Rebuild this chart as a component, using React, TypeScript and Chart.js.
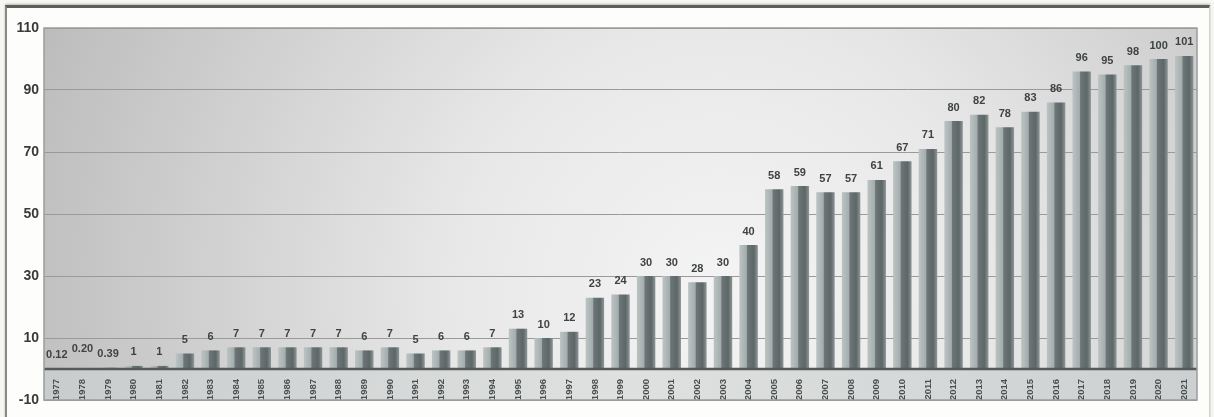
import React, { useEffect, useRef } from "react";
import { Chart, registerables } from "chart.js";

Chart.register(...registerables);

const years = [
  "1977", "1978", "1979", "1980", "1981", "1982", "1983", "1984", "1985",
  "1986", "1987", "1988", "1989", "1990", "1991", "1992", "1993", "1994",
  "1995", "1996", "1997", "1998", "1999", "2000", "2001", "2002", "2003",
  "2004", "2005", "2006", "2007", "2008", "2009", "2010", "2011", "2012",
  "2013", "2014", "2015", "2016", "2017", "2018", "2019", "2020", "2021",
];

const values = [
  0.12, 0.2, 0.39, 1, 1, 5, 6, 7, 7, 7, 7, 7, 6, 7, 5, 6, 6, 7, 13, 10, 12,
  23, 24, 30, 30, 28, 30, 40, 58, 59, 57, 57, 61, 67, 71, 80, 82, 78, 83, 86,
  96, 95, 98, 100, 101,
];

const yMin = -10;
const yMax = 110;
const yStep = 20;

const fmt = (v: number) => (v < 1 ? v.toFixed(2) : String(v));

const FONT = "'Liberation Sans', Arial, sans-serif";

const backgroundPlugin = {
  id: "plotBackground",
  beforeDraw(chart: any) {
    const { ctx, chartArea } = chart;
    const ys = chart.scales.y;
    const y0 = ys.getPixelForValue(0);
    const { left, right, top, bottom } = chartArea;
    ctx.save();
    const rg = ctx.createRadialGradient(720, 290, 0, 720, 290, 760);
    rg.addColorStop(0, "#f4f4f4");
    rg.addColorStop(0.35, "#e8e8e8");
    rg.addColorStop(1, "#b9b9b9");
    ctx.fillStyle = rg;
    ctx.fillRect(left, top, right - left, y0 - top);
    const lg = ctx.createLinearGradient(left, 0, right, 0);
    lg.addColorStop(0, "#c9cccc");
    lg.addColorStop(0.5, "#dfe1e1");
    lg.addColorStop(1, "#cdd0d0");
    ctx.fillStyle = lg;
    ctx.fillRect(left, y0, right - left, bottom - y0);
    ctx.restore();
  },
  afterDatasetsDraw(chart: any) {
    const { ctx, chartArea } = chart;
    const ys = chart.scales.y;
    const y0 = ys.getPixelForValue(0);
    const { left, right, top, bottom } = chartArea;
    ctx.save();
    ctx.strokeStyle = "#555959";
    ctx.lineWidth = 2.5;
    ctx.beginPath();
    ctx.moveTo(left, y0);
    ctx.lineTo(right, y0);
    ctx.stroke();
    ctx.strokeStyle = "#9a9c9c";
    ctx.lineWidth = 1.5;
    ctx.strokeRect(left, top, right - left, bottom - top);
    ctx.restore();

    // value labels
    const meta = chart.getDatasetMeta(0);
    ctx.save();
    ctx.font = `bold 11px ${FONT}`;
    ctx.fillStyle = "#3f4343";
    ctx.textAlign = "center";
    ctx.textBaseline = "bottom";
    let prevRight = -Infinity;
    let prevY = 0;
    meta.data.forEach((bar: any, i: number) => {
      const text = fmt(values[i]);
      const w = ctx.measureText(text).width;
      let y = bar.y - 8;
      if (bar.x - w / 2 < prevRight + 6 && Math.abs(y - prevY) < 4) {
        y -= 6;
      }
      ctx.fillText(text, bar.x, y);
      prevRight = bar.x + w / 2;
      prevY = y;
    });
    ctx.restore();
  },
};

export default function App() {
  const ref = useRef<HTMLCanvasElement | null>(null);

  useEffect(() => {
    if (!ref.current) return;
    const chart = new Chart(ref.current, {
      type: "bar",
      data: {
        labels: years,
        datasets: [
          {
            data: values,
            barPercentage: 0.72,
            categoryPercentage: 1,
            borderWidth: 0,
            backgroundColor: (c: any) => {
              const ch = c.chart;
              const xs = ch.scales && ch.scales.x;
              if (!xs || c.dataIndex === undefined || !ch.chartArea) return "#667070";
              const cx = xs.getPixelForValue(c.dataIndex);
              const half = ((xs.right - xs.left) / years.length) * 0.72 / 2;
              const g = ch.ctx.createLinearGradient(cx - half, 0, cx + half, 0);
              g.addColorStop(0, "#bcc3c3");
              g.addColorStop(0.38, "#a4adad");
              g.addColorStop(0.44, "#6c7676");
              g.addColorStop(0.78, "#5d6767");
              g.addColorStop(1, "#8e9797");
              return g;
            },
          },
        ],
      },
      options: {
        animation: false,
        responsive: false,
        maintainAspectRatio: false,
        layout: { padding: { left: 0, top: 28, right: 17, bottom: 17 } },
        plugins: {
          legend: { display: false },
          tooltip: { enabled: false },
          title: { display: false },
        },
        scales: {
          x: {
            type: "category",
            position: { y: 0 } as any,
            grid: { display: false },
            border: { display: false },
            ticks: {
              autoSkip: false,
              minRotation: 90,
              maxRotation: 90,
              padding: 2,
              color: "#4a4e4e",
              font: { family: FONT, size: 9.5, weight: "bold" },
            },
          },
          y: {
            min: yMin,
            max: yMax,
            afterFit: (scale: any) => {
              scale.width = 44;
            },
            ticks: {
              stepSize: yStep,
              padding: 5,
              color: "#3a3a3a",
              font: { family: FONT, size: 14, weight: "bold" },
            },
            grid: {
              color: "#9a9a9a",
              lineWidth: 1,
              drawTicks: false,
            },
            border: { display: false },
          },
        },
      },
      plugins: [backgroundPlugin],
    });
    return () => chart.destroy();
  }, []);

  return (
    <div
      style={{
        position: "absolute",
        left: 0,
        top: 0,
        width: 1214,
        height: 417,
        overflow: "hidden",
        background: "#f6f6f2",
      }}
    >
      <div
        style={{
          position: "absolute",
          left: 5,
          top: 5,
          width: 1202,
          height: 440,
          background: "#fdfdfb",
          borderTop: "3px solid #5e5e56",
          borderLeft: "2px solid #8a8a84",
          borderRight: "1px solid #d2d2cc",
          boxShadow: "0 -1px 2px rgba(0,0,0,0.25)",
        }}
      />
      <canvas
        ref={ref}
        width={1214}
        height={417}
        style={{ position: "absolute", left: 0, top: 0, width: 1214, height: 417 }}
      />
    </div>
  );
}
